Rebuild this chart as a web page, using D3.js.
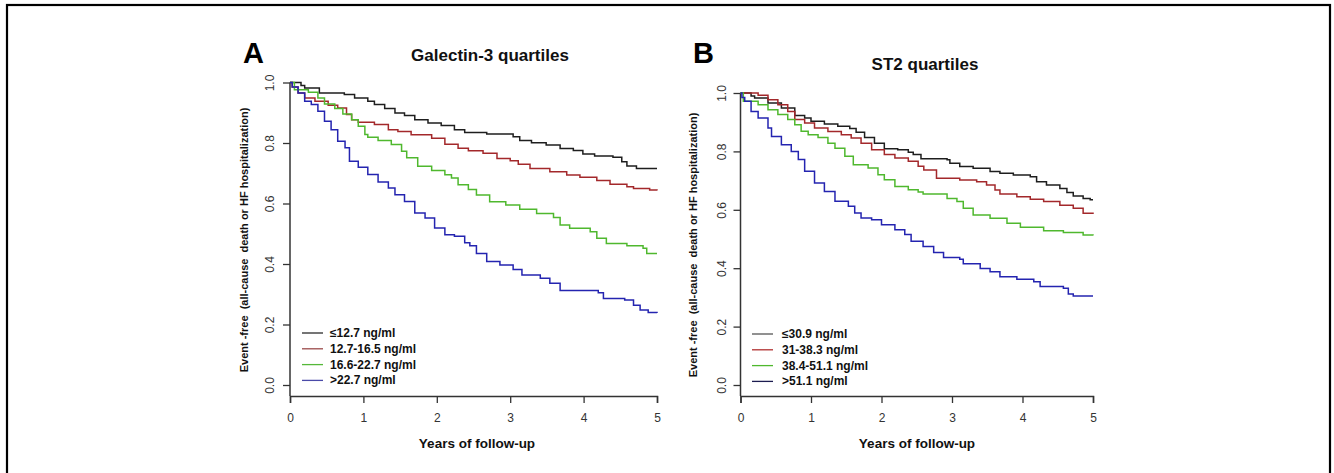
<!DOCTYPE html>
<html>
<head>
<meta charset="utf-8">
<script src="https://cdn.jsdelivr.net/npm/d3@7"></script>
<style>
  body { margin: 0; background: #fff; }
  svg { display: block; font-family: "Liberation Sans", Arial, sans-serif; }
</style>
</head>
<body>
<svg id="chart" width="1334" height="473"></svg>
<script>
"use strict";

// time (years), event-free proportion
const galLow = [[0,1],[0.15,0.99],[0.2,0.982],[0.4,0.965],[0.74,0.96],[0.88,0.949],[1.06,0.938],[1.15,0.927],[1.29,0.914],[1.43,0.899],[1.56,0.891],[1.70,0.877],[1.88,0.866],[2.06,0.858],[2.24,0.844],[2.38,0.835],[2.68,0.830],[3.04,0.821],[3.13,0.808],[3.29,0.801],[3.49,0.793],[3.68,0.782],[3.86,0.775],[3.99,0.764],[4.15,0.757],[4.40,0.753],[4.52,0.738],[4.59,0.724],[4.72,0.716],[5,0.716]];
const galMid1 = [[0,1],[0.03,0.985],[0.11,0.965],[0.2,0.949],[0.34,0.938],[0.52,0.925],[0.65,0.916],[0.77,0.894],[0.84,0.877],[0.93,0.869],[1.15,0.861],[1.34,0.844],[1.47,0.838],[1.65,0.827],[1.93,0.816],[2.11,0.796],[2.29,0.783],[2.43,0.774],[2.63,0.766],[2.82,0.749],[3.0,0.741],[3.11,0.73],[3.27,0.716],[3.54,0.705],[3.77,0.694],[3.95,0.687],[4.18,0.676],[4.36,0.664],[4.59,0.655],[4.68,0.65],[4.9,0.645],[5,0.643]];
const galMid2 = [[0,1],[0.06,0.976],[0.25,0.968],[0.38,0.949],[0.47,0.929],[0.61,0.914],[0.72,0.896],[0.84,0.877],[0.93,0.855],[1.02,0.828],[1.06,0.819],[1.2,0.808],[1.38,0.795],[1.52,0.773],[1.59,0.751],[1.74,0.723],[1.93,0.709],[2.11,0.695],[2.2,0.684],[2.29,0.662],[2.43,0.646],[2.54,0.628],[2.72,0.606],[2.94,0.595],[3.13,0.581],[3.36,0.567],[3.59,0.554],[3.68,0.529],[3.81,0.518],[4.09,0.507],[4.18,0.485],[4.31,0.468],[4.59,0.46],[4.81,0.452],[4.86,0.435],[5,0.435]];
const galHigh = [[0,1],[0.03,0.985],[0.11,0.965],[0.2,0.938],[0.29,0.927],[0.38,0.905],[0.47,0.872],[0.56,0.844],[0.65,0.806],[0.75,0.784],[0.81,0.74],[0.93,0.72],[1.06,0.696],[1.2,0.671],[1.34,0.651],[1.43,0.629],[1.56,0.607],[1.7,0.569],[1.84,0.552],[1.97,0.519],[2.11,0.497],[2.24,0.492],[2.38,0.47],[2.45,0.46],[2.54,0.435],[2.68,0.408],[2.86,0.397],[3.04,0.382],[3.16,0.364],[3.41,0.353],[3.54,0.336],[3.68,0.312],[4.2,0.305],[4.27,0.286],[4.56,0.281],[4.68,0.264],[4.77,0.248],[4.88,0.24],[5,0.238]];

const st2Low = [[0,1],[0.15,0.99],[0.2,0.983],[0.39,0.966],[0.58,0.949],[0.77,0.923],[0.91,0.914],[1.0,0.903],[1.19,0.894],[1.38,0.886],[1.55,0.878],[1.64,0.866],[1.76,0.848],[1.9,0.828],[2.04,0.809],[2.23,0.806],[2.38,0.797],[2.45,0.789],[2.56,0.775],[2.93,0.771],[2.97,0.759],[3.11,0.748],[3.3,0.742],[3.54,0.731],[3.68,0.725],[3.87,0.719],[4.11,0.713],[4.2,0.696],[4.34,0.685],[4.53,0.673],[4.63,0.659],[4.72,0.647],[4.86,0.639],[4.96,0.634],[5,0.634]];
const st2Mid1 = [[0,1],[0.25,0.992],[0.39,0.977],[0.53,0.96],[0.67,0.937],[0.77,0.909],[0.91,0.897],[1.05,0.88],[1.24,0.868],[1.43,0.857],[1.57,0.846],[1.71,0.828],[1.86,0.806],[2.04,0.789],[2.19,0.777],[2.38,0.766],[2.52,0.749],[2.6,0.736],[2.78,0.708],[3.11,0.702],[3.35,0.696],[3.49,0.685],[3.61,0.668],[3.68,0.654],[3.92,0.645],[4.11,0.636],[4.3,0.628],[4.53,0.616],[4.72,0.605],[4.86,0.588],[5,0.586]];
const st2Mid2 = [[0,1],[0.04,0.972],[0.25,0.96],[0.39,0.943],[0.53,0.926],[0.67,0.909],[0.77,0.891],[0.86,0.869],[0.96,0.857],[1.1,0.848],[1.24,0.828],[1.34,0.811],[1.48,0.783],[1.6,0.754],[1.81,0.743],[1.95,0.72],[2.04,0.703],[2.19,0.68],[2.38,0.669],[2.52,0.661],[2.59,0.654],[2.93,0.639],[3.07,0.628],[3.16,0.605],[3.3,0.582],[3.54,0.571],[3.78,0.554],[3.97,0.54],[4.3,0.528],[4.58,0.522],[4.86,0.514],[5,0.512]];
const st2High = [[0,1],[0.02,0.985],[0.06,0.972],[0.15,0.937],[0.25,0.914],[0.39,0.88],[0.44,0.851],[0.58,0.823],[0.72,0.8],[0.82,0.772],[0.91,0.732],[1.05,0.692],[1.19,0.663],[1.34,0.629],[1.53,0.612],[1.62,0.589],[1.71,0.572],[1.86,0.566],[2.0,0.549],[2.19,0.532],[2.33,0.515],[2.42,0.492],[2.59,0.474],[2.74,0.454],[2.88,0.437],[3.11,0.431],[3.16,0.415],[3.4,0.399],[3.54,0.388],[3.68,0.371],[3.92,0.362],[4.16,0.354],[4.25,0.337],[4.58,0.331],[4.65,0.312],[4.72,0.305],[5,0.305]];

const galLabels = ["\u226412.7 ng/ml", "12.7-16.5 ng/ml", "16.6-22.7 ng/ml", ">22.7 ng/ml"];
const st2Labels = ["\u226430.9 ng/ml", "31-38.3 ng/ml", "38.4-51.1 ng/ml", ">51.1 ng/ml"];
const xTicks = [0, 1, 2, 3, 4, 5];
const yTicks = [0, 0.2, 0.4, 0.6, 0.8, 1.0];

const curveColors = ["#1e1e1e", "#a3282b", "#4fb82e", "#2424b0"];
const galKeyColors = ["#2a2a2a", "#9b4a4a", "#55b83a", "#4a4aa8"];
const st2KeyColors = ["#555555", "#b03030", "#4fb82e", "#1c1c50"];

const svg = d3.select("#chart");

// outer frame
svg.append("rect")
	.attr("x", 7).attr("y", 5)
	.attr("width", 1323).attr("height", 500)
	.attr("fill", "none").attr("stroke", "#000").attr("stroke-width", 2.2);

function panel(opt) {
	const x = d3.scaleLinear().domain([0, 5]).range([opt.x0, opt.x1]);
	const y = d3.scaleLinear().domain([0, 1]).range([opt.y0, opt.y1]);
	const base = 396;
	const g = svg.append("g");

	// y axis
	const ya = g.append("g")
		.attr("transform", `translate(${opt.x0},0)`)
		.call(d3.axisLeft(y).tickValues(yTicks).tickFormat(d3.format(".1f")).tickSize(7));
	ya.select(".domain").remove();
	ya.selectAll("line").attr("stroke", "#333").attr("stroke-width", 1.3);
	ya.selectAll("text")
		.attr("x", null).attr("dy", null)
		.attr("text-anchor", "middle")
		.attr("dominant-baseline", "central")
		.attr("transform", `translate(${-opt.labOff},0) rotate(-90)`)
		.attr("font-size", 12).attr("fill", "#333")
		.attr("font-family", "Liberation Sans, Arial, sans-serif");
	g.append("line")
		.attr("x1", opt.x0).attr("x2", opt.x0)
		.attr("y1", y(1)).attr("y2", base)
		.attr("stroke", "#333").attr("stroke-width", 1.5);

	// x axis
	const xa = g.append("g")
		.attr("transform", `translate(0,${base})`)
		.call(d3.axisBottom(x).tickValues(xTicks).tickFormat(d3.format("d")).tickSize(7).tickPadding(10));
	xa.select(".domain").attr("stroke", "#333").attr("stroke-width", 1.5);
	xa.selectAll("line").attr("stroke", "#333").attr("stroke-width", 1.3);
	xa.selectAll("text").attr("font-size", 12).attr("fill", "#333")
		.attr("font-family", "Liberation Sans, Arial, sans-serif");

	// curves
	const line = d3.line()
		.x(d => x(d[0]))
		.y(d => y(d[1]))
		.curve(d3.curveStepAfter);
	g.selectAll("path.km")
		.data(opt.series)
		.enter().append("path")
		.attr("class", "km")
		.attr("d", line)
		.attr("fill", "none")
		.attr("stroke", (d, i) => curveColors[i])
		.attr("stroke-width", 1.5);

	// legend
	const lg = g.append("g");
	opt.labels.forEach((lab, i) => {
		const ly = opt.legY + i * 15.8;
		lg.append("line")
			.attr("x1", opt.legX).attr("x2", opt.legX + 21)
			.attr("y1", ly).attr("y2", ly)
			.attr("stroke", opt.keyColors[i]).attr("stroke-width", 1.3);
		lg.append("text")
			.attr("x", opt.legX + opt.legGap).attr("y", ly)
			.attr("dominant-baseline", "central")
			.attr("font-size", 12).attr("font-weight", "bold").attr("fill", "#111")
			.text(lab);
	});

	// titles
	g.append("text")
		.attr("x", opt.letterX).attr("y", 63)
		.attr("font-size", 29).attr("font-weight", "bold").attr("fill", "#000")
		.text(opt.letter);
	g.append("text")
		.attr("x", opt.titleX).attr("y", opt.titleY)
		.attr("text-anchor", "middle")
		.attr("font-size", 17).attr("font-weight", "bold").attr("fill", "#111")
		.text(opt.title);
	g.append("text")
		.attr("x", opt.xTitleX).attr("y", 448)
		.attr("text-anchor", "middle")
		.attr("font-size", 13.5).attr("font-weight", "bold").attr("fill", "#111")
		.text("Years of follow-up");
	g.append("text")
		.attr("transform", `translate(${opt.yTitleX},${opt.yTitleY}) rotate(-90)`)
		.attr("text-anchor", "middle")
		.attr("dominant-baseline", "central")
		.attr("font-size", 11).attr("font-weight", "bold").attr("fill", "#111")
		.attr("xml:space", "preserve")
		.style("white-space", "pre")
		.text("Event -free  (all-cause  death or HF hospitalization)");
}

panel({
	x0: 290, x1: 657, y0: 385, y1: 82.5, labOff: 20,
	series: [galLow, galMid1, galMid2, galHigh],
	labels: galLabels, keyColors: galKeyColors,
	legX: 302, legY: 333, legGap: 28,
	letter: "A", letterX: 243,
	title: "Galectin-3 quartiles", titleX: 490, titleY: 61,
	xTitleX: 477, yTitleX: 244, yTitleY: 240
});

panel({
	x0: 740.5, x1: 1093, y0: 385, y1: 93, labOff: 19,
	series: [st2Low, st2Mid1, st2Mid2, st2High],
	labels: st2Labels, keyColors: st2KeyColors,
	legX: 752, legY: 334, legGap: 30,
	letter: "B", letterX: 693,
	title: "ST2 quartiles", titleX: 925, titleY: 70,
	xTitleX: 917, yTitleX: 693, yTitleY: 245
});
</script>
</body>
</html>
